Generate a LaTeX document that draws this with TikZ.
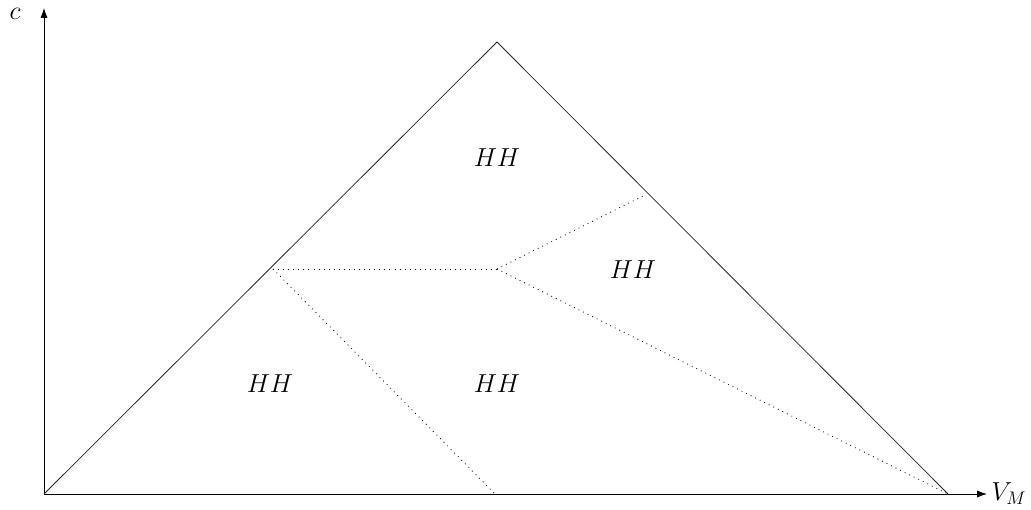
\RequirePackage{fix-cm}
\documentclass[tikz,border=0pt]{standalone}
\usetikzlibrary{arrows.meta}
\begin{document}
\begin{tikzpicture}[x=0.025cm,y=-0.025cm,
  axis/.style={line width=0.6pt,-{Latex[length=7pt,width=5pt]}},
  edge/.style={line width=0.55pt,black!85},
  sep/.style={line width=0.6pt,dash pattern=on 0.6pt off 3pt},
  lbl/.style={font=\fontsize{18.5}{22}\selectfont}]
\useasboundingbox (0,0) rectangle (1031,510);
\coordinate (O) at (44,494);
\coordinate (Ytop) at (44,8);
\coordinate (Xend) at (987,494);
\coordinate (A) at (497,42);
\coordinate (B) at (948,494);
\coordinate (P) at (273,269);
\coordinate (Q) at (497,269);
\coordinate (R) at (645,195);
\coordinate (S) at (495,494);
\draw[axis] (O) -- (Ytop);
\draw[axis] (O) -- (Xend);
\node[lbl,anchor=west,inner sep=3pt] (vm) at (Xend) {$V_M$};
\node[lbl] (c) at (15,14) {$c$};
\draw[edge] (O) -- (A) -- (B);
\draw[sep] (P) -- (Q);
\draw[sep] (Q) -- (R);
\draw[sep] (Q) -- (B);
\draw[sep] (P) -- (S);
\node[lbl] (h1) at (497,158) {$HH$};
\node[lbl] (h2) at (633,270) {$HH$};
\node[lbl] (h3) at (270,384) {$HH$};
\node[lbl] (h4) at (497,384) {$HH$};
\end{tikzpicture}
\end{document}
